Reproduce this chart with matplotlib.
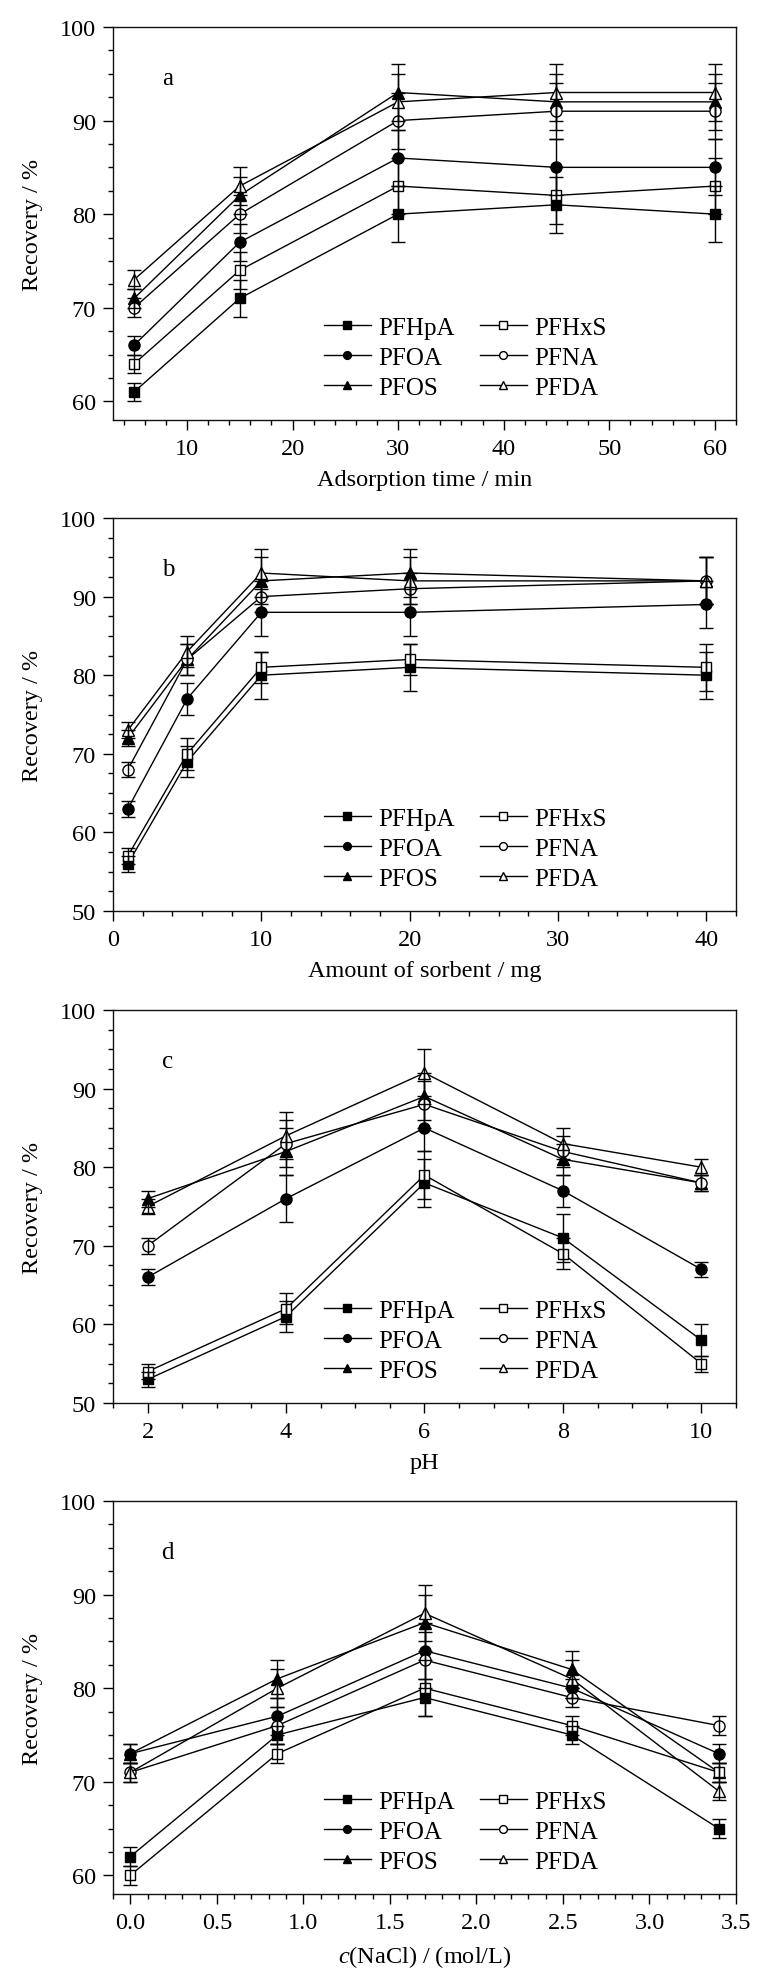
import matplotlib
matplotlib.use("Agg")
import matplotlib.pyplot as plt
from matplotlib.ticker import MultipleLocator, FormatStrFormatter

plt.rcParams['font.family'] = ['Liberation Serif', 'DejaVu Serif']
plt.rcParams['mathtext.fontset'] = 'custom'
plt.rcParams['mathtext.rm'] = 'Liberation Serif'
plt.rcParams['mathtext.it'] = 'Liberation Serif:italic'

series_names = ["PFHpA", "PFOA", "PFOS", "PFHxS", "PFNA", "PFDA"]

# Panel a: adsorption time
x_a = [5, 15, 30, 45, 60]
a_vals = {
    "PFHpA": [61, 71, 80, 81, 80],
    "PFHxS": [64, 74, 83, 82, 83],
    "PFOA":  [66, 77, 86, 85, 85],
    "PFNA":  [70, 80, 90, 91, 91],
    "PFOS":  [71, 82, 93, 92, 92],
    "PFDA":  [73, 83, 92, 93, 93],
}
a_err = {
    "PFHpA": [1, 2, 3, 3, 3],
    "PFHxS": [1, 2, 3, 3, 3],
    "PFOA":  [1, 2, 3, 3, 3],
    "PFNA":  [1, 2, 3, 3, 3],
    "PFOS":  [1, 2, 3, 3, 3],
    "PFDA":  [1, 2, 3, 3, 3],
}

# Panel b: amount of sorbent
x_b = [1, 5, 10, 20, 40]
b_vals = {
    "PFHpA": [56, 69, 80, 81, 80],
    "PFHxS": [57, 70, 81, 82, 81],
    "PFOA":  [63, 77, 88, 88, 89],
    "PFNA":  [68, 82, 90, 91, 92],
    "PFOS":  [72, 82, 92, 93, 92],
    "PFDA":  [73, 83, 93, 92, 92],
}
b_err = {
    "PFHpA": [1, 2, 3, 3, 3],
    "PFHxS": [1, 2, 2, 2, 3],
    "PFOA":  [1, 2, 3, 3, 3],
    "PFNA":  [1, 2, 2, 2, 3],
    "PFOS":  [1, 2, 3, 3, 3],
    "PFDA":  [1, 2, 3, 3, 3],
}

# Panel c: pH
x_c = [2, 4, 6, 8, 10]
c_vals = {
    "PFHpA": [53, 61, 78, 71, 58],
    "PFHxS": [54, 62, 79, 69, 55],
    "PFOA":  [66, 76, 85, 77, 67],
    "PFNA":  [70, 83, 88, 82, 78],
    "PFOS":  [76, 82, 89, 81, 78],
    "PFDA":  [75, 84, 92, 83, 80],
}
c_err = {
    "PFHpA": [1, 2, 3, 3, 2],
    "PFHxS": [1, 2, 3, 2, 1],
    "PFOA":  [1, 3, 3, 2, 1],
    "PFNA":  [1, 3, 3, 2, 1],
    "PFOS":  [1, 3, 3, 2, 1],
    "PFDA":  [1, 3, 3, 2, 1],
}

# Panel d: NaCl concentration
x_d = [0.0, 0.85, 1.7, 2.55, 3.4]
d_vals = {
    "PFHpA": [62, 75, 79, 75, 65],
    "PFHxS": [60, 73, 80, 76, 71],
    "PFOA":  [73, 77, 84, 80, 73],
    "PFNA":  [71, 76, 83, 79, 76],
    "PFOS":  [73, 81, 87, 82, 71],
    "PFDA":  [71, 80, 88, 81, 69],
}
d_err = {
    "PFHpA": [1, 1, 2, 1, 1],
    "PFHxS": [1, 1, 3, 1, 1],
    "PFOA":  [1, 2, 3, 1, 1],
    "PFNA":  [1, 2, 3, 1, 1],
    "PFOS":  [1, 2, 3, 2, 1],
    "PFDA":  [1, 2, 3, 2, 1],
}

styles = {
    "PFHpA": dict(marker='s', mfc='k', ms=7.5),
    "PFHxS": dict(marker='s', mfc='white', ms=7.5),
    "PFOA":  dict(marker='o', mfc='k', ms=8),
    "PFNA":  dict(marker='o', mfc='white', ms=8),
    "PFOS":  dict(marker='^', mfc='k', ms=8.5),
    "PFDA":  dict(marker='^', mfc='white', ms=8.5),
}

panels = [
    dict(x=x_a, vals=a_vals, err=a_err, xlim=(3, 62), ylim=(58, 100),
         xmaj=10, xmin=2, yticks=[60, 70, 80, 90, 100], xticks=None,
         xlabel="Adsorption time / min", tag="a", fmt=None),
    dict(x=x_b, vals=b_vals, err=b_err, xlim=(0, 42), ylim=(50, 100),
         xmaj=10, xmin=2, yticks=[50, 60, 70, 80, 90, 100], xticks=None,
         xlabel="Amount of sorbent / mg", tag="b", fmt=None),
    dict(x=x_c, vals=c_vals, err=c_err, xlim=(1.5, 10.5), ylim=(50, 100),
         xmaj=2, xmin=0.5, yticks=[50, 60, 70, 80, 90, 100], xticks=[2, 4, 6, 8, 10],
         xlabel="pH", tag="c", fmt=None),
    dict(x=x_d, vals=d_vals, err=d_err, xlim=(-0.1, 3.5), ylim=(58, 100),
         xmaj=0.5, xmin=0.1, yticks=[60, 70, 80, 90, 100], xticks=None,
         xlabel=r"$c$(NaCl) / (mol/L)", tag="d", fmt="%.1f"),
]

W, H = 765, 1974
fig = plt.figure(figsize=(W / 100, H / 100), dpi=100)

tops = [28, 519, 1011, 1502]
ax_h = 393
left_px, right_px = 113, 736
FS_TICK = 17.5
FS_LABEL = 17.5
FS_LEG = 18

for p, top in zip(panels, tops):
    ax = fig.add_axes([left_px / W, 1 - (top + ax_h) / H, (right_px - left_px) / W, ax_h / H])
    handles = {}
    for name in series_names:
        st = styles[name]
        ln, = ax.plot(p["x"], p["vals"][name], color='k', lw=1.0,
                      marker=st["marker"], mfc=st["mfc"], mec='k', mew=1.0,
                      ms=st["ms"], zorder=2, label=name)
        ax.errorbar(p["x"], p["vals"][name], yerr=p["err"][name], fmt='none',
                    ecolor='k', elinewidth=1.0, capsize=4.7, capthick=1.0, zorder=3)
        handles[name] = ln
    ax.set_xlim(*p["xlim"])
    ax.set_ylim(*p["ylim"])
    if p["xticks"] is not None:
        ax.set_xticks(p["xticks"])
    else:
        ax.xaxis.set_major_locator(MultipleLocator(p["xmaj"]))
    ax.xaxis.set_minor_locator(MultipleLocator(p["xmin"]))
    ax.set_yticks(p["yticks"])
    ax.yaxis.set_minor_locator(MultipleLocator(2.5))
    if p["fmt"]:
        ax.xaxis.set_major_formatter(FormatStrFormatter(p["fmt"]))
    ax.tick_params(axis='both', which='major', direction='out', length=7.2, width=1.0,
                   labelsize=FS_TICK, top=False, right=False)
    ax.tick_params(axis='both', which='minor', direction='out', length=3.8, width=1.0,
                   top=False, right=False)
    ax.tick_params(axis='x', which='major', pad=6)
    ax.tick_params(axis='y', which='major', pad=5)
    for sp in ax.spines.values():
        sp.set_linewidth(1.0)
        sp.set_color('#111111')
    ax.set_xlabel(p["xlabel"], fontsize=FS_LABEL, labelpad=7)
    ax.set_ylabel("Recovery / %", fontsize=FS_LABEL)
    ax.yaxis.set_label_coords(-0.112, 0.5)
    ax.text(0.088, 0.87, p["tag"], transform=ax.transAxes, fontsize=FS_LEG,
            ha='center', va='center')
    ax.legend([handles[n] for n in series_names], series_names, ncol=2,
              loc='center', bbox_to_anchor=(0.565, 0.158), frameon=False,
              fontsize=FS_LEG, handlelength=1.9, handletextpad=0.28,
              columnspacing=1.0, labelspacing=0.3, markerscale=0.7,
              borderpad=0.0)

fig.savefig("out.png", dpi=100)
